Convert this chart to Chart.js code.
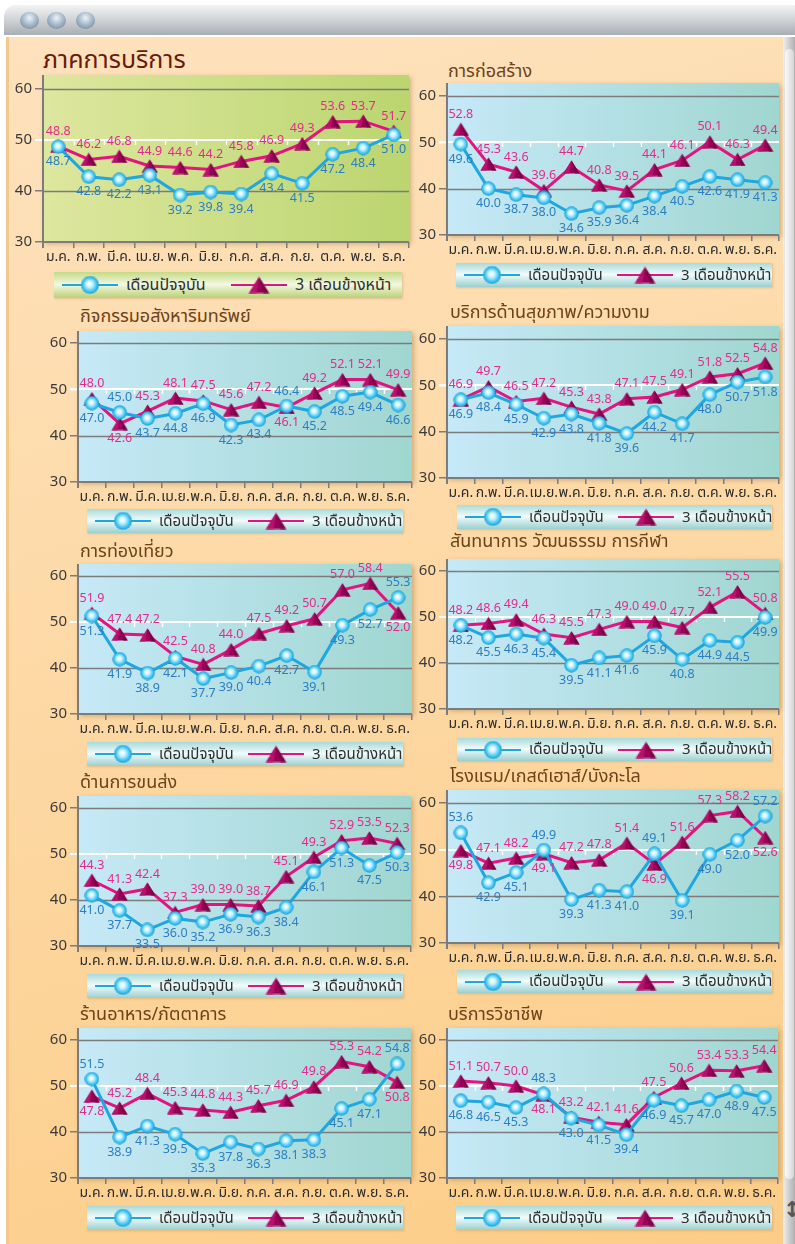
<!DOCTYPE html>
<html lang="th">
<head>
<meta charset="utf-8">
<title>ดัชนีความเชื่อมั่นภาคการบริการ</title>
<script src="https://cdn.jsdelivr.net/npm/chart.js@4.4.1/dist/chart.umd.min.js"></script>
<style>
  html, body { margin: 0; padding: 0; }
  body {
    width: 795px; height: 1244px; overflow: hidden; position: relative; background: #fff;
    font-family: "Noto Sans Thai", "Noto Sans Thai UI", "Loma", "Garuda", "Tahoma", "Noto Sans", sans-serif;
  }
  #frame {
    position: absolute; left: 6px; top: 37px; width: 777px; height: 1207px;
    background: linear-gradient(165deg, #fee2bd 0%, #fdd9a6 45%, #fccd88 100%);
    border-left: 3px solid #f2c88e;
  }
  #bar {
    position: absolute; left: 4px; top: 5px; width: 791px; height: 30px;
    border-radius: 12px 0 0 0;
    background: linear-gradient(#f2f3f4, #d3d6d9 45%, #a9aeb4);
  }
  .dot {
    position: absolute; top: 7px; width: 19px; height: 17px; border-radius: 50%;
    background: radial-gradient(circle at 50% 35%, #eef3f8 0%, #a9bccd 45%, #647a90 100%);
  }
  #scroll {
    position: absolute; left: 783px; top: 37px; width: 12px; height: 1207px;
    background: linear-gradient(to right, #f0f0f0, #c8c8c8 60%, #b0b0b0);
  }
  #scroll .thumb {
    position: absolute; left: 2px; top: 12px; width: 9px; height: 1130px; border-radius: 5px;
    background: linear-gradient(to right, #fafafa, #d6d6d6);
  }
  #scroll .arrow {
    position: absolute; left: 0; top: 1148px; width: 12px; height: 50px;
    color: #555; font: bold 22px "DejaVu Sans", sans-serif; text-align: center; line-height: 50px;
  }
  .title { position: absolute; white-space: nowrap; line-height: 1; transform: translateY(-50%); color: #6e4219; font-size: 18px; }
  .title.main { color: #6a1a0c; font-size: 25px; }
  .chart { position: absolute; }
  .legend { position: absolute; box-shadow: 1px 1px 2px rgba(150, 100, 40, 0.25); }
  .legend.green { background: linear-gradient(#c5da86, #f3f8e2 48%, #e6efc8 60%, #b9d176); }
  .legend.teal { background: linear-gradient(#a9dada, #f2fbfb 48%, #dcf1f1 60%, #9ccfcf); }
  .legend .item { position: absolute; top: 0; height: 100%; display: flex; align-items: center; white-space: nowrap; }
  .legend span { font-size: 15px; color: #2e2e2e; margin-left: 8px; }
  .legend.green span { font-size: 16px; }
</style>
</head>
<body>
<div id="bar"><div class="dot" style="left:16px"></div><div class="dot" style="left:43px"></div><div class="dot" style="left:72px"></div></div>
<div id="frame"></div>
<div id="scroll"><div class="thumb"></div><div class="arrow">&#8597;</div></div>
<div id="charts"></div>

<script>
// month labels on every x axis
var months = ['ม.ค.', 'ก.พ.', 'มี.ค.', 'เม.ย.', 'พ.ค.', 'มิ.ย.', 'ก.ค.', 'ส.ค.', 'ก.ย.', 'ต.ค.', 'พ.ย.', 'ธ.ค.'];
var yTicks = [30, 40, 50, 60];
var seriesNames = ['เดือนปัจจุบัน', '3 เดือนข้างหน้า'];

var titles = [
    'ภาคการบริการ',
    'การก่อสร้าง',
    'กิจกรรมอสังหาริมทรัพย์',
    'บริการด้านสุขภาพ/ความงาม',
    'การท่องเที่ยว',
    'สันทนาการ วัฒนธรรม การกีฬา',
    'ด้านการขนส่ง',
    'โรงแรม/เกสต์เฮาส์/บังกะโล',
    'ร้านอาหาร/ภัตตาคาร',
    'บริการวิชาชีพ'
];

// current month / 3 months ahead, one pair per panel
var serviceNow = [48.7, 42.8, 42.2, 43.1, 39.2, 39.8, 39.4, 43.4, 41.5, 47.2, 48.4, 51.0];
var serviceAhead = [48.8, 46.2, 46.8, 44.9, 44.6, 44.2, 45.8, 46.9, 49.3, 53.6, 53.7, 51.7];
var buildNow = [49.6, 40.0, 38.7, 38.0, 34.6, 35.9, 36.4, 38.4, 40.5, 42.6, 41.9, 41.3];
var buildAhead = [52.8, 45.3, 43.6, 39.6, 44.7, 40.8, 39.5, 44.1, 46.1, 50.1, 46.3, 49.4];
var estateNow = [47.0, 45.0, 43.7, 44.8, 46.9, 42.3, 43.4, 46.4, 45.2, 48.5, 49.4, 46.6];
var estateAhead = [48.0, 42.6, 45.3, 48.1, 47.5, 45.6, 47.2, 46.1, 49.2, 52.1, 52.1, 49.9];
var healthNow = [46.9, 48.4, 45.9, 42.9, 43.8, 41.8, 39.6, 44.2, 41.7, 48.0, 50.7, 51.8];
var healthAhead = [46.9, 49.7, 46.5, 47.2, 45.3, 43.8, 47.1, 47.5, 49.1, 51.8, 52.5, 54.8];
var tourNow = [51.3, 41.9, 38.9, 42.1, 37.7, 39.0, 40.4, 42.7, 39.1, 49.3, 52.7, 55.3];
var tourAhead = [51.9, 47.4, 47.2, 42.5, 40.8, 44.0, 47.5, 49.2, 50.7, 57.0, 58.4, 52.0];
var leisureNow = [48.2, 45.5, 46.3, 45.4, 39.5, 41.1, 41.6, 45.9, 40.8, 44.9, 44.5, 49.9];
var leisureAhead = [48.2, 48.6, 49.4, 46.3, 45.5, 47.3, 49.0, 49.0, 47.7, 52.1, 55.5, 50.8];
var transportNow = [41.0, 37.7, 33.5, 36.0, 35.2, 36.9, 36.3, 38.4, 46.1, 51.3, 47.5, 50.3];
var transportAhead = [44.3, 41.3, 42.4, 37.3, 39.0, 39.0, 38.7, 45.1, 49.3, 52.9, 53.5, 52.3];
var hotelNow = [53.6, 42.9, 45.1, 49.9, 39.3, 41.3, 41.0, 49.1, 39.1, 49.0, 52.0, 57.2];
var hotelAhead = [49.8, 47.1, 48.2, 49.1, 47.2, 47.8, 51.4, 46.9, 51.6, 57.3, 58.2, 52.6];
var foodNow = [51.5, 38.9, 41.3, 39.5, 35.3, 37.8, 36.3, 38.1, 38.3, 45.1, 47.1, 54.8];
var foodAhead = [47.8, 45.2, 48.4, 45.3, 44.8, 44.3, 45.7, 46.9, 49.8, 55.3, 54.2, 50.8];
var proNow = [46.8, 46.5, 45.3, 48.3, 43.0, 41.5, 39.4, 46.9, 45.7, 47.0, 48.9, 47.5];
var proAhead = [51.1, 50.7, 50.0, 48.1, 43.2, 42.1, 41.6, 47.5, 50.6, 53.4, 53.3, 54.4];

var nowSeries = [serviceNow, buildNow, estateNow, healthNow, tourNow, leisureNow, transportNow, hotelNow, foodNow, proNow];
var aheadSeries = [serviceAhead, buildAhead, estateAhead, healthAhead, tourAhead, leisureAhead, transportAhead, hotelAhead, foodAhead, proAhead];

// page placement of each panel: axis x, plot right, background top, y of 60 and 30, title, legend box
var layouts = [
    {axis: 43, right: 409, bgTop: 75, y60: 89, y30: 242, tx: 43, ty: 60, main: true, lg: [54, 272, 402, 298]},
    {axis: 447, right: 779, bgTop: 83, y60: 96, y30: 235, tx: 448, ty: 72, lg: [456, 263, 772, 287]},
    {axis: 78, right: 412, bgTop: 331, y60: 343, y30: 482, tx: 80, ty: 317, lg: [87, 509, 403, 533]},
    {axis: 447, right: 779, bgTop: 326, y60: 339, y30: 478, tx: 450, ty: 313, lg: [457, 505, 772, 529]},
    {axis: 78, right: 412, bgTop: 564, y60: 576, y30: 714, tx: 80, ty: 552, lg: [87, 742, 403, 766]},
    {axis: 447, right: 779, bgTop: 559, y60: 571, y30: 709, tx: 450, ty: 542, lg: [457, 738, 772, 761]},
    {axis: 78, right: 411, bgTop: 796, y60: 808, y30: 946, tx: 80, ty: 783, lg: [87, 974, 403, 998]},
    {axis: 447, right: 779, bgTop: 790, y60: 803, y30: 943, tx: 450, ty: 777, lg: [457, 970, 772, 993]},
    {axis: 78, right: 411, bgTop: 1028, y60: 1040, y30: 1178, tx: 80, ty: 1015, lg: [87, 1206, 403, 1230]},
    {axis: 447, right: 778, bgTop: 1028, y60: 1040, y30: 1178, tx: 448, ty: 1015, lg: [456, 1206, 772, 1230]}
];

var BLUE = '#1ea7e1';
var PINK = '#e4147f';
var AXIS_GREY = '#7c7c7c';
var NUM_FONT = '12.5px "Noto Sans", "DejaVu Sans", sans-serif';
var THAI_FONT = '"Noto Sans Thai", "Noto Sans Thai UI", "Loma", "Garuda", "Tahoma", "Noto Sans", sans-serif';

// glossy ball used for the current-month series
function makeBall() {
    var c = document.createElement('canvas');
    c.width = 15; c.height = 15;
    var g = c.getContext('2d');
    var grad = g.createRadialGradient(6.8, 6.5, 0.5, 7.5, 7.5, 7.5);
    grad.addColorStop(0, '#ffffff');
    grad.addColorStop(0.3, '#c6f2ff');
    grad.addColorStop(0.72, '#3cc3f0');
    grad.addColorStop(1, '#1596d6');
    g.fillStyle = grad;
    g.beginPath();
    g.arc(7.5, 7.5, 7.2, 0, Math.PI * 2);
    g.fill();
    return c;
}

// small pyramid used for the 3-months-ahead series
function makePyramid() {
    var c = document.createElement('canvas');
    c.width = 17; c.height = 14;
    var g = c.getContext('2d');
    g.fillStyle = '#9a0058';
    g.beginPath();
    g.moveTo(8.5, 0.5); g.lineTo(16.5, 13.5); g.lineTo(0.5, 13.5); g.closePath();
    g.fill();
    g.fillStyle = '#b8106c';
    g.beginPath();
    g.moveTo(8.5, 0.5); g.lineTo(0.5, 13.5); g.lineTo(6.5, 13.5); g.closePath();
    g.fill();
    g.fillStyle = '#7d0047';
    g.beginPath();
    g.moveTo(8.5, 0.5); g.lineTo(16.5, 13.5); g.lineTo(12, 13.5); g.closePath();
    g.fill();
    return c;
}

var ball = makeBall();
var pyramid = makePyramid();

function swatch(color, marker) {
    var c = document.createElement('canvas');
    c.width = 56; c.height = 22;
    var g = c.getContext('2d');
    g.strokeStyle = color;
    g.lineWidth = 2;
    g.beginPath(); g.moveTo(0, 11); g.lineTo(56, 11); g.stroke();
    var s = 1.25;
    g.drawImage(marker, 28 - marker.width * s / 2, 11 - marker.height * s / 2, marker.width * s, marker.height * s);
    return c;
}

// plot background, drawn behind everything, reaching above the 60 line
var panelBackground = {
    id: 'panelBackground',
    beforeDraw: function(chart, args, opts) {
        var a = chart.chartArea;
        var ctx = chart.ctx;
        var top = a.top - opts.extra;
        ctx.save();
        var grad = ctx.createLinearGradient(a.left, 0, a.right, 0);
        grad.addColorStop(0, opts.from);
        grad.addColorStop(1, opts.to);
        ctx.shadowColor = 'rgba(120, 80, 30, 0.35)';
        ctx.shadowBlur = 5;
        ctx.shadowOffsetX = 2;
        ctx.shadowOffsetY = 2;
        ctx.fillStyle = grad;
        ctx.fillRect(a.left, top, a.right - a.left, a.bottom - top);
        ctx.restore();
    },
    beforeDatasetsDraw: function(chart, args, opts) {
        var a = chart.chartArea;
        var ctx = chart.ctx;
        var y = chart.scales.y;
        var top = a.top - opts.extra;
        ctx.save();
        // 60 and 40 lines
        ctx.strokeStyle = AXIS_GREY;
        ctx.lineWidth = 1.5;
        [60, 40].forEach(function(v) {
            var py = Math.round(y.getPixelForValue(v)) + 0.5;
            ctx.beginPath(); ctx.moveTo(a.left, py); ctx.lineTo(a.right, py); ctx.stroke();
        });
        // white 50 line with small month ticks
        var p50 = Math.round(y.getPixelForValue(50));
        ctx.strokeStyle = '#ffffff';
        ctx.lineWidth = 2;
        ctx.beginPath(); ctx.moveTo(a.left - 8, p50); ctx.lineTo(a.right, p50); ctx.stroke();
        ctx.lineWidth = 1.5;
        var step = (a.right - a.left) / months.length;
        for (var i = 1; i < months.length; i++) {
            var bx = Math.round(a.left + step * i) + 0.5;
            ctx.beginPath(); ctx.moveTo(bx, p50); ctx.lineTo(bx, p50 + 5); ctx.stroke();
        }
        // axes
        ctx.strokeStyle = AXIS_GREY;
        ctx.lineWidth = 2;
        ctx.beginPath(); ctx.moveTo(a.left, top); ctx.lineTo(a.left, a.bottom + 6); ctx.stroke();
        ctx.beginPath(); ctx.moveTo(a.left, a.bottom); ctx.lineTo(a.right, a.bottom); ctx.stroke();
        ctx.restore();
    }
};

// values written next to each marker; the higher series gets its label above
var valueLabels = {
    id: 'valueLabels',
    afterDatasetsDraw: function(chart) {
        var ctx = chart.ctx;
        var nowMeta = chart.getDatasetMeta(0);
        var aheadMeta = chart.getDatasetMeta(1);
        var nowData = chart.data.datasets[0].data;
        var aheadData = chart.data.datasets[1].data;
        ctx.save();
        ctx.font = NUM_FONT;
        ctx.textAlign = 'center';
        ctx.textBaseline = 'middle';
        for (var i = 0; i < nowData.length; i++) {
            var nowUp = nowData[i] > aheadData[i];
            var pn = nowMeta.data[i];
            var pa = aheadMeta.data[i];
            ctx.fillStyle = '#2a7ec4';
            ctx.fillText(nowData[i].toFixed(1), pn.x, pn.y + (nowUp ? -15 : 15));
            ctx.fillStyle = '#e52a8b';
            ctx.fillText(aheadData[i].toFixed(1), pa.x, pa.y + (nowUp ? 15 : -15));
        }
        ctx.restore();
    }
};

var holder = document.getElementById('charts');

layouts.forEach(function(L, k) {
    var title = document.createElement('div');
    title.className = 'title' + (L.main ? ' main' : '');
    title.style.left = L.tx + 'px';
    title.style.top = L.ty + 'px';
    title.textContent = titles[k];
    holder.appendChild(title);

    var canvasTop = L.bgTop - 8;
    var wrap = document.createElement('div');
    wrap.className = 'chart';
    wrap.style.left = (L.axis - 40) + 'px';
    wrap.style.top = canvasTop + 'px';
    var w = L.right - L.axis + 40 + 8;
    var h = L.y30 - canvasTop + 28;
    wrap.style.width = w + 'px';
    wrap.style.height = h + 'px';
    var cv = document.createElement('canvas');
    wrap.appendChild(cv);
    holder.appendChild(wrap);

    new Chart(cv, {
        type: 'line',
        data: {
            labels: months,
            datasets: [{
                label: seriesNames[0],
                data: nowSeries[k],
                borderColor: BLUE,
                borderWidth: 3,
                pointStyle: ball,
                clip: false
            }, {
                label: seriesNames[1],
                data: aheadSeries[k],
                borderColor: PINK,
                borderWidth: 3,
                pointStyle: pyramid,
                clip: false
            }]
        },
        options: {
            responsive: true,
            maintainAspectRatio: false,
            animation: false,
            events: [],
            layout: {padding: {top: L.y60 - canvasTop, right: 8, left: 0, bottom: 0}},
            plugins: {
                legend: {display: false},
                tooltip: {enabled: false},
                panelBackground: {
                    extra: L.y60 - L.bgTop,
                    from: L.main ? '#dde79f' : '#c6e9f7',
                    to: L.main ? '#bbd56f' : '#a0d6d0'
                }
            },
            scales: {
                x: {
                    offset: true,
                    afterFit: function(scale) { scale.height = 28; },
                    border: {display: false},
                    grid: {offset: true, drawOnChartArea: false, tickLength: 6, color: AXIS_GREY, lineWidth: 1.5},
                    ticks: {autoSkip: false, maxRotation: 0, padding: 2, color: '#2b2b2b', font: {family: THAI_FONT, size: 14}}
                },
                y: {
                    min: yTicks[0],
                    max: yTicks[yTicks.length - 1],
                    afterFit: function(scale) { scale.width = 40; },
                    afterBuildTicks: function(scale) {
                        scale.ticks = yTicks.map(function(v) { return {value: v}; });
                    },
                    border: {display: false},
                    grid: {
                        drawOnChartArea: false,
                        tickLength: 8,
                        lineWidth: 1.5,
                        color: function(c) { return c.tick && c.tick.value === 50 ? '#ffffff' : AXIS_GREY; }
                    },
                    ticks: {padding: 3, color: '#3a3a3a', font: {family: '"Noto Sans", "DejaVu Sans", sans-serif', size: 15}}
                }
            }
        },
        plugins: [panelBackground, valueLabels]
    });

    var lg = document.createElement('div');
    lg.className = 'legend ' + (L.main ? 'green' : 'teal');
    var lw = L.lg[2] - L.lg[0];
    lg.style.left = L.lg[0] + 'px';
    lg.style.top = L.lg[1] + 'px';
    lg.style.width = lw + 'px';
    lg.style.height = (L.lg[3] - L.lg[1]) + 'px';
    [[BLUE, ball, 8], [PINK, pyramid, Math.round(lw * 0.51)]].forEach(function(s, j) {
        var item = document.createElement('div');
        item.className = 'item';
        item.style.left = s[2] + 'px';
        item.appendChild(swatch(s[0], s[1]));
        var t = document.createElement('span');
        t.textContent = seriesNames[j];
        item.appendChild(t);
        lg.appendChild(item);
    });
    holder.appendChild(lg);
});
</script>
</body>
</html>
